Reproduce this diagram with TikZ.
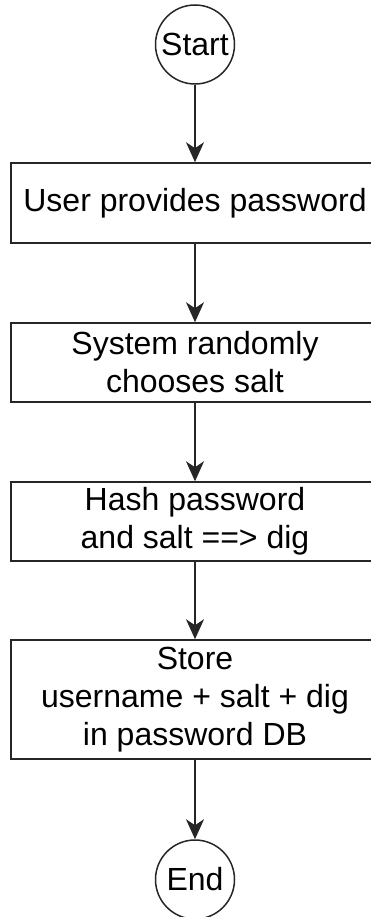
\documentclass[tikz,border=0pt]{standalone}
\usepackage{fontspec}
\setmainfont{Liberation Sans}
\usetikzlibrary{arrows.meta,positioning}
\tikzset{
  term/.style={circle,draw=black!85,line width=1.5pt,minimum size=79pt,inner sep=0pt,font=\fontsize{32}{38}\selectfont},
  stepbox/.style={rectangle,draw=black!85,line width=1.5pt,minimum width=368pt,align=center,inner sep=0pt,font=\fontsize{32}{38}\selectfont},
  flow/.style={black!85,line width=1.5pt,-{Stealth[length=20pt,width=18pt,inset=6pt]}}
}
\begin{document}
\begin{tikzpicture}[x=1pt,y=-1pt]
  \clip (0,0) rectangle (371,917);
  \node (start) at (195,44.5)[term]{Start};
  \node (provide) at (195,203)[stepbox,minimum height=80pt]{User provides password};
  \node (salt) at (195,362.5)[stepbox,minimum height=79pt]{System randomly\\chooses salt};
  \node (hash) at (195,521.5)[stepbox,minimum height=79pt]{Hash password\\and salt ==> dig};
  \node (store) at (195,699.5)[stepbox,minimum height=119pt]{Store\\username + salt + dig\\in password DB};
  \node (end) at (195,879.5)[term]{End};
  \draw [flow] (start) -- (provide);
  \draw [flow] (provide) -- (salt);
  \draw [flow] (salt) -- (hash);
  \draw [flow] (hash) -- (store);
  \draw [flow] (store) -- (end);
\end{tikzpicture}
\end{document}
